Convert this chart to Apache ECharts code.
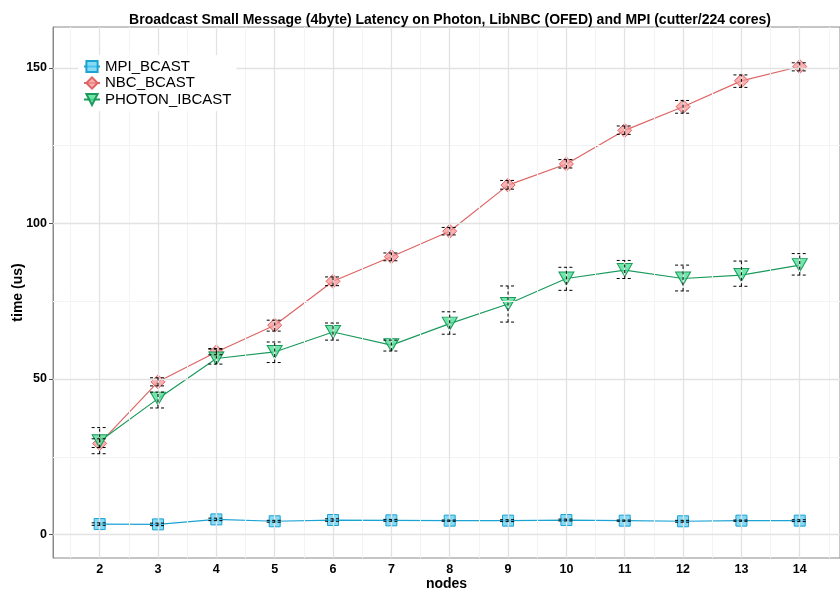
<!DOCTYPE html>
<html>
<head>
<meta charset="utf-8">
<script src="https://cdn.jsdelivr.net/npm/echarts@6/dist/echarts.min.js"></script>
<style>html,body{margin:0;padding:0;background:#fff}#c{width:840px;height:592px}</style>
</head>
<body>
<div id="c"></div>
<script>
const nodes = [2,3,4,5,6,7,8,9,10,11,12,13,14];
const xTicks = [2,3,4,5,6,7,8,9,10,11,12,13,14];
const yTicks = [0,50,100,150];
const xMinorGrid = [1.5,2.5,3.5,4.5,5.5,6.5,7.5,8.5,9.5,10.5,11.5,12.5,13.5,14.5];
const yMinorGrid = [25,75,125];

const mpiMean = [3.4,3.3,4.9,4.3,4.7,4.6,4.5,4.5,4.7,4.5,4.3,4.5,4.5];
const mpiLo   = [3.0,2.9,4.5,4.0,4.3,4.3,4.3,4.2,4.4,4.3,4.0,4.3,4.2];
const mpiHi   = [3.8,3.7,5.3,4.6,5.1,4.9,4.7,4.8,5.0,4.7,4.6,4.7,4.8];

const nbcMean = [29.3,49.1,58.7,67.3,81.4,89.3,97.5,112.3,119.1,129.9,137.5,145.8,150.4];
const nbcLo   = [28.0,47.8,57.8,65.4,80.0,88.0,96.3,111.0,117.8,128.6,135.4,143.7,149.0];
const nbcHi   = [30.8,50.4,59.6,68.9,82.8,90.5,98.7,113.8,120.5,131.3,139.5,147.7,151.6];

const phoMean = [30.0,43.7,56.6,58.7,65.1,60.9,67.8,74.1,82.3,85.0,82.3,83.4,86.6];
const phoLo   = [26.0,40.7,54.8,55.3,62.5,59.0,64.4,68.3,78.5,82.3,78.3,79.8,83.4];
const phoHi   = [34.4,45.8,59.8,61.9,68.0,62.5,71.6,79.9,85.9,88.1,86.6,87.9,90.3];

const seriesNames = ['MPI_BCAST','NBC_BCAST','PHOTON_IBCAST'];

const FONT = '"Liberation Sans", Arial, Helvetica, sans-serif';

function pts(m){ return nodes.map((n,i)=>[n,m[i]]); }
function errData(lo,hi){ return nodes.map((n,i)=>[n,lo[i],hi[i]]); }

function errRender(params, api){
  const x = api.value(0), lo = api.value(1), hi = api.value(2);
  const pLo = api.coord([x, lo]), pHi = api.coord([x, hi]);
  const hw = 8;
  const st = {stroke:'#000', lineWidth:1, lineDash:[3,2.5], fill:null};
  return {type:'group', children:[
    {type:'line', shape:{x1:pLo[0],y1:pLo[1],x2:pHi[0],y2:pHi[1]}, style:st},
    {type:'line', shape:{x1:pLo[0]-hw,y1:pLo[1],x2:pLo[0]+hw,y2:pLo[1]}, style:st},
    {type:'line', shape:{x1:pHi[0]-hw,y1:pHi[1],x2:pHi[0]+hw,y2:pHi[1]}, style:st}
  ]};
}

const gridLineSeries = {
  type:'line', data:[], silent:true, z:0, zlevel:0,
  markLine:{
    silent:true, symbol:['none','none'], label:{show:false}, animation:false,
    data: [
      ...xMinorGrid.map(v=>({xAxis:v, lineStyle:{color:'#f3f3f3', width:1, type:'solid'}})),
      ...yMinorGrid.map(v=>({yAxis:v, lineStyle:{color:'#f3f3f3', width:1, type:'solid'}})),
      ...xTicks.map(v=>({xAxis:v, lineStyle:{color:'#e2e2e2', width:1.3, type:'solid'}})),
      ...yTicks.map(v=>({yAxis:v, lineStyle:{color:'#e2e2e2', width:1.3, type:'solid'}}))
    ]
  }
};

const chart = echarts.init(document.getElementById('c'), null, {renderer:'canvas'});
chart.setOption({
  animation:false,
  backgroundColor:'#ffffff',
  title:{
    text:'Broadcast Small Message (4byte) Latency on Photon, LibNBC (OFED) and MPI (cutter/224 cores)',
    left:445, top:8, textAlign:'center',
    textStyle:{fontFamily:FONT, fontSize:14, fontWeight:'bold', color:'#000'}
  },
  legend:{
    data: seriesNames, z:50,
    orient:'vertical', left:78, top:55, itemGap:1.5,
    itemWidth:16, itemHeight:14, padding:[4,5,4,5],
    backgroundColor:'#ffffff',
    textStyle:{fontFamily:FONT, fontSize:15, color:'#000'}
  },
  grid:{left:53, right:0, top:27, bottom:34, outerBoundsMode:'none', containLabel:false,
        show:true, borderColor:'#8a8a8a', borderWidth:1, backgroundColor:'transparent'},
  xAxis:{
    type:'value', min:1.2, max:14.69,
    name:'nodes', nameLocation:'middle', nameGap:19, nameMoveOverlap:false,
    nameTextStyle:{fontFamily:FONT, fontSize:14, fontWeight:'bold', color:'#000'},
    axisLine:{show:true, lineStyle:{color:'#8a8a8a', width:1}},
    axisTick:{show:true, length:4, customValues:xTicks, lineStyle:{color:'#555'}},
    axisLabel:{customValues:xTicks, fontFamily:FONT, fontSize:12.5, fontWeight:'bold', color:'#000', margin:5},
    splitLine:{show:false}, minorSplitLine:{show:false}
  },
  yAxis:{
    type:'value', min:-7.5, max:163.1,
    name:'time (us)', nameLocation:'middle', nameGap:28, nameRotate:90, nameMoveOverlap:false,
    nameTextStyle:{fontFamily:FONT, fontSize:14, fontWeight:'bold', color:'#000'},
    axisLine:{show:true, lineStyle:{color:'#8a8a8a', width:1}},
    axisTick:{show:true, length:4, customValues:yTicks, lineStyle:{color:'#555'}},
    axisLabel:{customValues:yTicks, fontFamily:FONT, fontSize:12.5, fontWeight:'bold', color:'#000', margin:6},
    splitLine:{show:false}
  },
  series:[
    gridLineSeries,
    {name:'MPI_BCAST', type:'line', data:pts(mpiMean), z:3,
     symbol:'rect', symbolSize:11,
     lineStyle:{color:'#1aa3d3', width:1.2},
     itemStyle:{color:'rgba(95,205,240,0.75)', borderColor:'#1aa3d3', borderWidth:1}},
    {name:'NBC_BCAST', type:'line', data:pts(nbcMean), z:3,
     symbol:'diamond', symbolSize:14,
     lineStyle:{color:'#df6464', width:1.2},
     itemStyle:{color:'rgba(245,150,150,0.75)', borderColor:'#df6464', borderWidth:1}},
    {name:'PHOTON_IBCAST', type:'line', data:pts(phoMean), z:3,
     symbol:'triangle', symbolRotate:180, symbolSize:[15,13],
     lineStyle:{color:'#1a9a5c', width:1.2},
     itemStyle:{color:'rgba(80,225,150,0.8)', borderColor:'#1a9a5c', borderWidth:1}},
    {type:'custom', data:errData(mpiLo,mpiHi), renderItem:errRender, z:5, silent:true},
    {type:'custom', data:errData(nbcLo,nbcHi), renderItem:errRender, z:5, silent:true},
    {type:'custom', data:errData(phoLo,phoHi), renderItem:errRender, z:5, silent:true}
  ]
});
</script>
</body>
</html>
